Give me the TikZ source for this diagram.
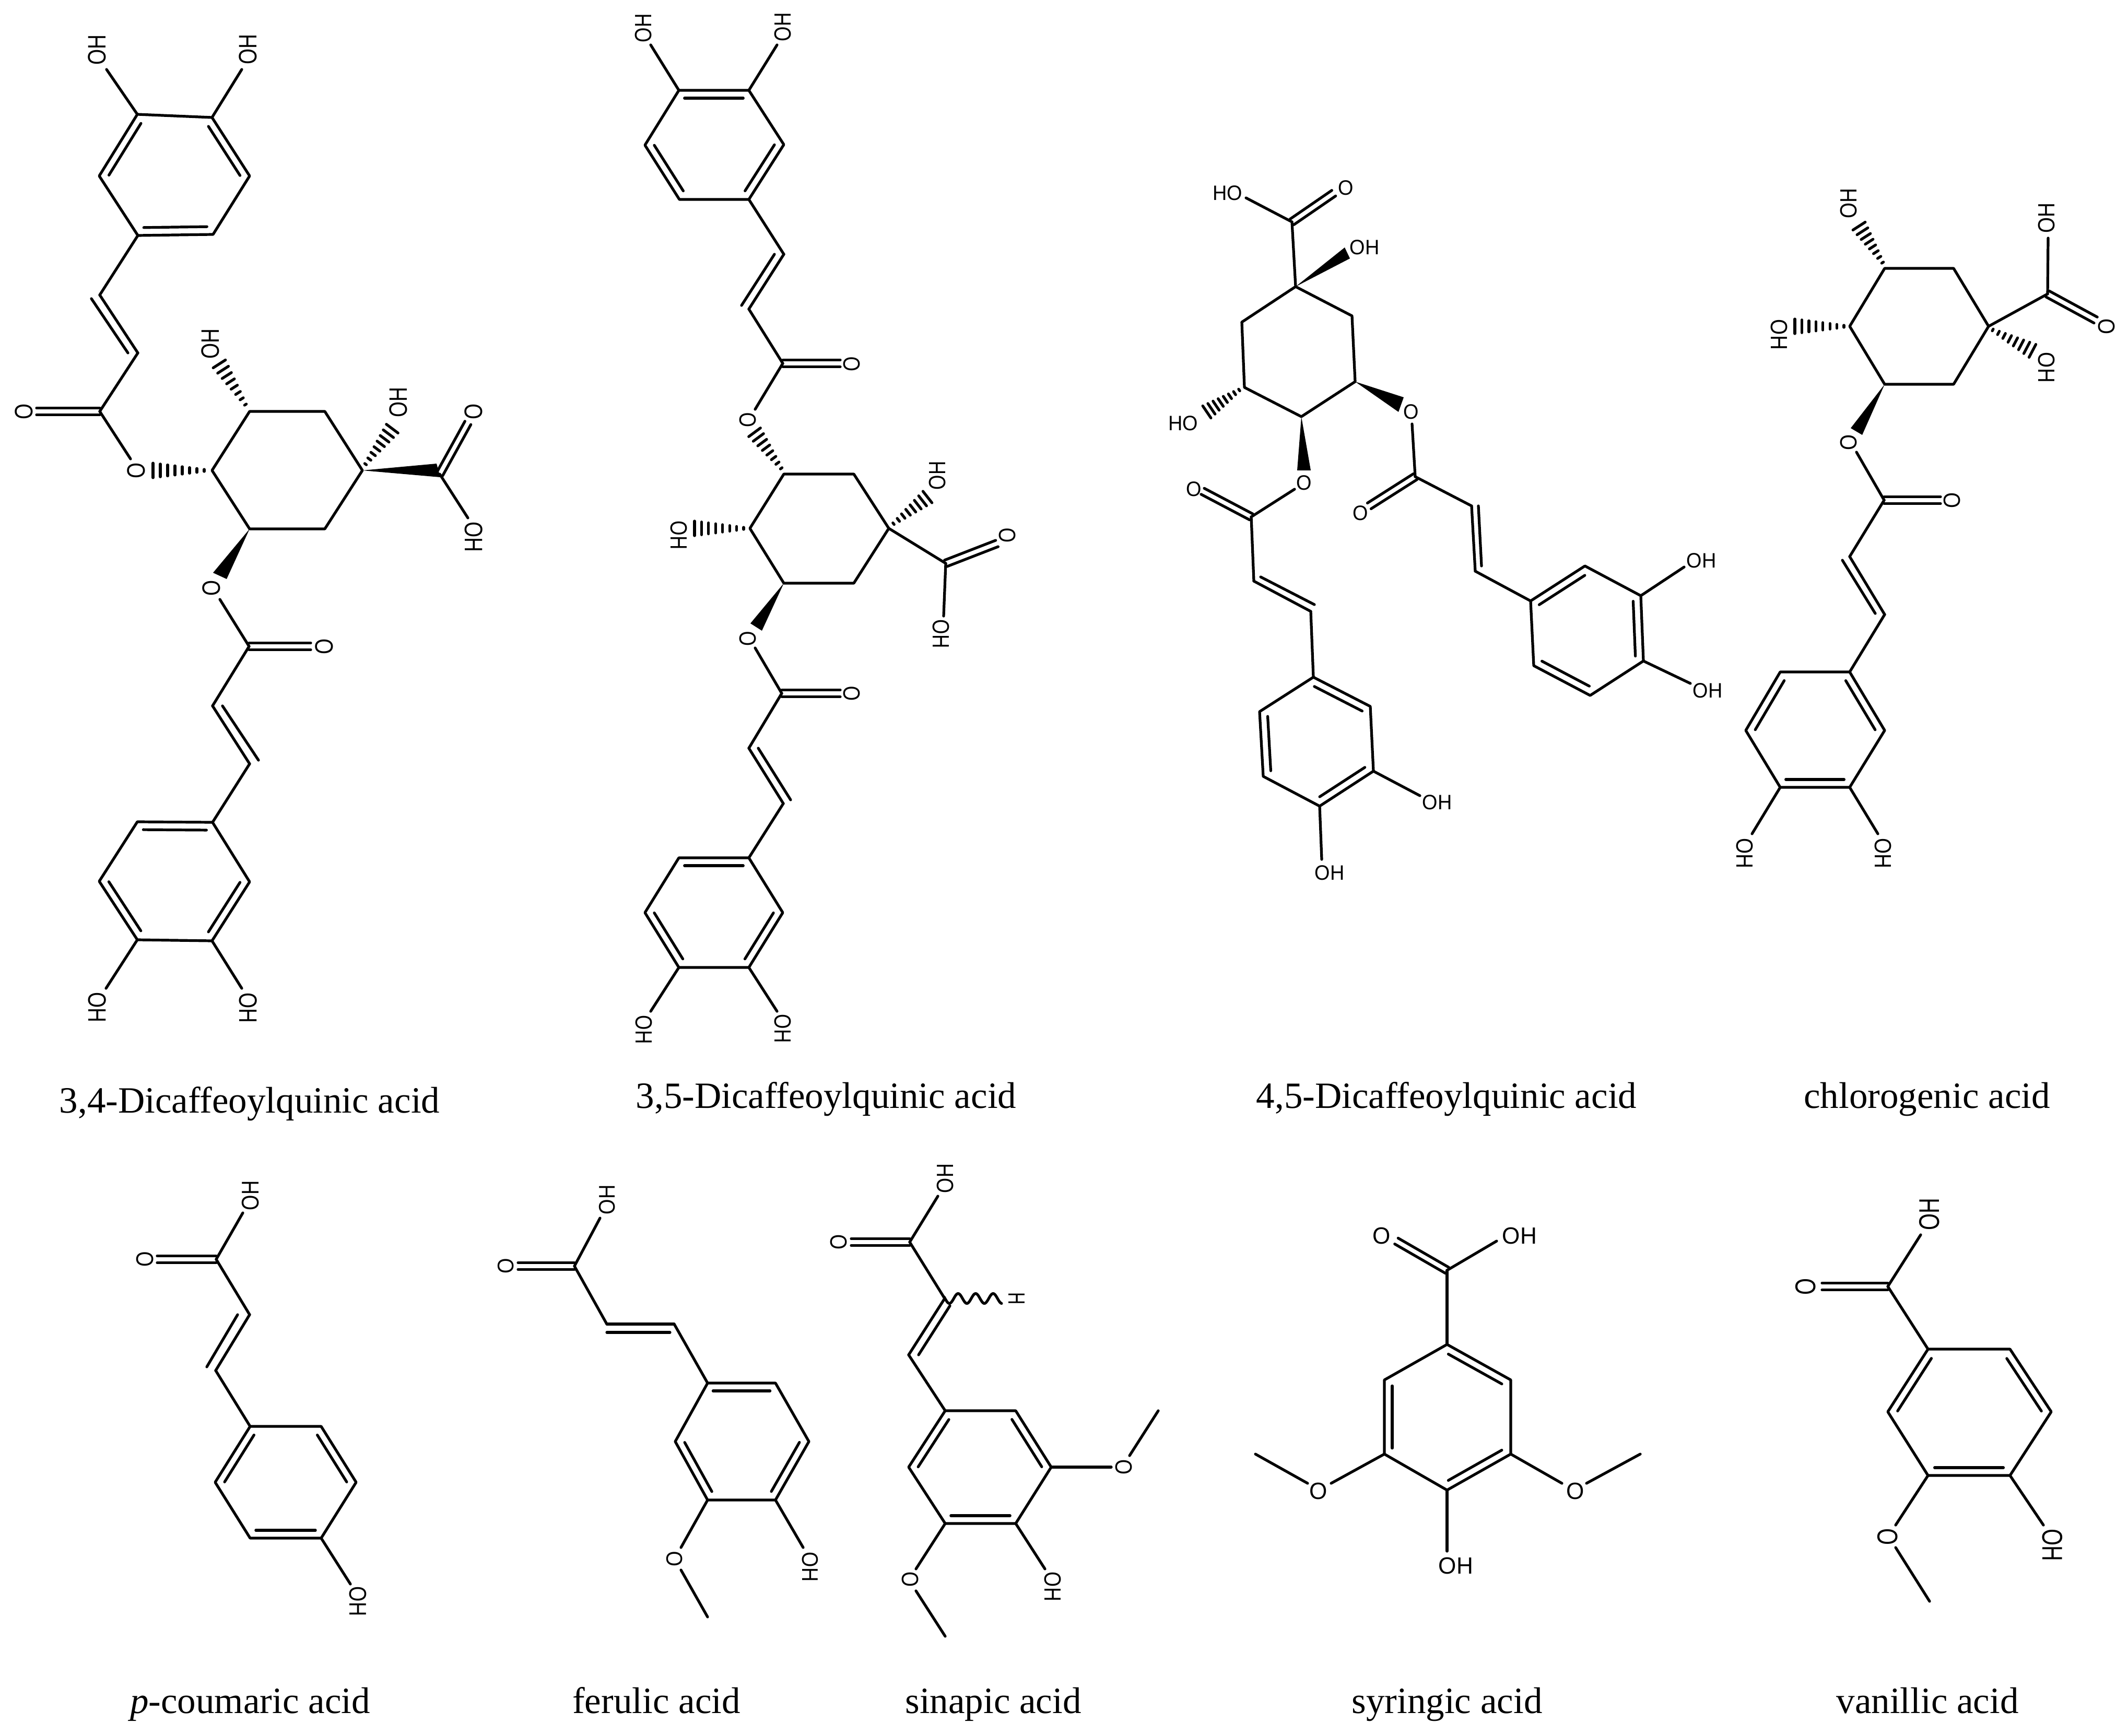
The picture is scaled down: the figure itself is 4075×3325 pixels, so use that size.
\documentclass[tikz,border=0pt]{standalone}
\usepackage{fontspec}
\setmainfont{Liberation Serif}
\newfontfamily\lblf{Liberation Sans}
\usetikzlibrary{calc}
\tikzset{
  bondline/.style={line width=.052cm,line join=round,line cap=round,black},
  hashline/.style={line width=.052cm,line cap=round,black},
  lbl/.style={font=\lblf\fontsize{11.95}{12}\selectfont,inner sep=0pt,outer sep=0pt},
  capt/.style={font=\fontsize{20.2}{22}\selectfont,inner sep=0pt,anchor=base},
  atomshape/.style={}
}
\newcommand\pts[1]{\foreach \n/\x/\y in {#1}{\coordinate (\n) at (\x,\y);}}
\newcommand\bonds[1]{\foreach \a/\b in {#1}{\draw[bondline] (\a)--(\b);}}
\newcommand\inbonds[1]{\foreach \a/\b in {#1}{\draw[bondline] ($(\a)!.08!(\b)!.15cm!-90:(\b)$)--($(\b)!.08!(\a)!.15cm!90:(\a)$);}}
\newcommand\cobond[2]{\draw[bondline] ($(#1)!.065cm!90:(#2)$)--($(#2)!.065cm!-90:(#1)$);\draw[bondline] ($(#1)!.065cm!-90:(#2)$)--($(#2)!.065cm!90:(#1)$);}
\newcommand\hashb[2]{\coordinate (hx) at ($(#1)!1.5!(#2)$);\foreach \i in {0,...,7}{\pgfmathsetmacro\f{\i/7}\pgfmathsetmacro\h{(.02+.12*\f)}\draw[hashline] ($(#1)!\f!(#2)!\h cm!90:(hx)$)--($(#1)!\f!(#2)!\h cm!-90:(hx)$);}}
\newcommand\wdg[3]{\fill[black] (#1)--(#2)--(#3)--cycle;}
\newcommand\atomlbl[5]{\node[lbl,rotate=#4,atomshape] (#1) at (#2,#3) {#5};}
\begin{document}
\begin{tikzpicture}[x=.01cm,y=-.01cm]
\useasboundingbox (0,0) rectangle (4075,3325);
\fill[white] (0,0) rectangle (4075,3325);

% ===== 3,4-Dicaffeoylquinic acid
\begin{scope}
\tikzset{atomshape/.style={xscale=.92,yscale=1.15}}
\pts{A1/263/219,A2/406/225,A3/478/337,A4/408/449,A5/264/451,A6/190/337,
 Ao1/204/133,Ao2/463/133,Ab1/191/565,Ab2/264/676,As1/175/572,As2/245/676,
 Ac/191/788,Acoe/70/788,Ace/250/879,
 Ar1/478/788,Ar2/406/901,Ar3/478/1013,Ar4/622/1013,Ar5/694/901,Ar6/622/788,
 Ah1a/391/901,Ah1b/293/901,Ah2a/470/775,Ah2b/420/697,Ah3a/700/889,Ah3b/751/821,
 Awb1/836/888,Awb2/843/914,Ax/842/908,Axo/896/810,Axh/896/992,
 Aw1/408/1097,Aw2/434/1109,Ae1/421/1148,Ac2/477/1238,Ac2e/595/1238,
 Ad1/407/1352,Ad2/478/1463,At1/426/1352,At2/495/1456,
 B1/407/1575,B2/478/1689,B3/406/1802,B4/263/1800,B5/190/1688,B6/263/1574,
 Bo1/463/1893,Bo2/203/1893}
\draw[bondline] (A1)--(A2)--(A3)--(A4)--(A5)--(A6)--cycle;
\inbonds{A2/A3,A4/A5,A6/A1}
\draw[bondline] (Ar1)--(Ar2)--(Ar3)--(Ar4)--(Ar5)--(Ar6)--cycle;
\draw[bondline] (B1)--(B2)--(B3)--(B4)--(B5)--(B6)--cycle;
\inbonds{B2/B3,B4/B5,B6/B1}
\bonds{A1/Ao1,A2/Ao2,A5/Ab1,Ab1/Ab2,As1/As2,Ab2/Ac,Ac/Ace,Ax/Axh,Ae1/Ac2,Ac2/Ad1,Ad1/Ad2,At1/At2,Ad2/B1,B3/Bo1,B4/Bo2}
\cobond{Ac}{Acoe}\cobond{Ax}{Axo}\cobond{Ac2}{Ac2e}
\hashb{Ah1a}{Ah1b}\hashb{Ah2a}{Ah2b}\hashb{Ah3a}{Ah3b}
\wdg{Ar5}{Awb1}{Awb2}\wdg{Ar3}{Aw1}{Aw2}
\atomlbl{al1}{186}{96}{90}{OH}\atomlbl{al2}{475}{95}{90}{OH}
\atomlbl{al3}{46}{788}{90}{O}\atomlbl{al4}{261}{901}{90}{O}
\atomlbl{al5}{403}{659}{90}{OH}\atomlbl{al6}{763}{771}{90}{OH}
\atomlbl{al7}{907}{788}{90}{O}\atomlbl{al8}{907}{1028}{-90}{OH}
\atomlbl{al9}{405}{1126}{90}{O}\atomlbl{al10}{621}{1238}{90}{O}
\atomlbl{al11}{475}{1930}{-90}{OH}\atomlbl{al12}{186}{1929}{-90}{OH}
\end{scope}
\node[capt] (capA) at (478,2131) {3,4-Dicaffeoylquinic acid};

% ===== 3,5-Dicaffeoylquinic acid
\begin{scope}
\tikzset{atomshape/.style={xscale=.87,yscale=1.07}}
\pts{C1/1300/173,C2/1434/173,C3/1501/277,C4/1434/382,C5/1301/382,C6/1235/278,
 Co1/1246/86,Co2/1488/86,Cb1/1501/487,Cb2/1434/592,Cs1/1483/487,Cs2/1420/585,
 Cc/1499/696,Cce/1609/696,Cee/1446/784,
 Cr1/1501/908,Cr2/1436/1012,Cr3/1501/1117,Cr4/1635/1117,Cr5/1702/1012,Cr6/1635/908,
 Ch1a/1496/897,Ch1b/1445/828,Ch2a/1424/1012,Ch2b/1330/1012,Ch3a/1711/1003,Ch3b/1776/952,
 Cx/1811/1079,Cxo/1909/1041,Cxh/1807/1180,
 Cw1/1437/1194,Cw2/1459/1208,Ce1/1446/1241,Cc2/1497/1328,Cc2e/1609/1328,
 Cd1/1434/1433,Cd2/1500/1539,Ct1/1452/1433,Ct2/1514/1532,
 D1/1434/1643,D2/1499/1748,D3/1434/1853,D4/1300/1853,D5/1235/1748,D6/1300/1643,
 Do1/1488/1937,Do2/1246/1937}
\draw[bondline] (C1)--(C2)--(C3)--(C4)--(C5)--(C6)--cycle;
\inbonds{C1/C2,C3/C4,C5/C6}
\draw[bondline] (Cr1)--(Cr2)--(Cr3)--(Cr4)--(Cr5)--(Cr6)--cycle;
\draw[bondline] (D1)--(D2)--(D3)--(D4)--(D5)--(D6)--cycle;
\inbonds{D2/D3,D4/D5,D6/D1}
\bonds{C1/Co1,C2/Co2,C4/Cb1,Cb1/Cb2,Cs1/Cs2,Cb2/Cc,Cc/Cee,Cr5/Cx,Cx/Cxh,Ce1/Cc2,Cc2/Cd1,Cd1/Cd2,Ct1/Ct2,Cd2/D1,D3/Do1,D4/Do2}
\cobond{Cc}{Cce}\cobond{Cx}{Cxo}\cobond{Cc2}{Cc2e}
\hashb{Ch1a}{Ch1b}\hashb{Ch2a}{Ch2b}\hashb{Ch3a}{Ch3b}
\wdg{Cr3}{Cw1}{Cw2}
\atomlbl{cl1}{1232}{54}{90}{OH}\atomlbl{cl2}{1499}{52}{90}{OH}
\atomlbl{cl3}{1631}{697}{90}{O}\atomlbl{cl4}{1432}{804}{90}{O}
\atomlbl{cl5}{1300}{1025}{-90}{OH}\atomlbl{cl6}{1795}{911}{90}{OH}
\atomlbl{cl7}{1929}{1025}{90}{O}\atomlbl{cl8}{1802}{1214}{-90}{OH}
\atomlbl{cl9}{1432}{1223}{90}{O}\atomlbl{cl10}{1631}{1328}{90}{O}
\atomlbl{cl11}{1499}{1970}{-90}{OH}\atomlbl{cl12}{1233}{1972}{-90}{OH}
\end{scope}
\node[capt] (capB) at (1582,2122) {3,5-Dicaffeoylquinic acid};

% ===== 4,5-Dicaffeoylquinic acid
\begin{scope}
\tikzset{atomshape/.style={xscale=.9,yscale=.95}}
\pts{E1/2481/549,E2/2589/605,E3/2595/731,E4/2492/798,E5/2383/742,E6/2378/617,
 Ex/2474/425,Exo/2554/370,Exh/2386/379,Ew1/2575/474,Ew2/2585/495,
 Eh1a/2373/747,Eh1b/2311/789,Ew3/2484/901,Ew4/2510/901,
 Ee1/2479/937,Ec1/2396/990,Ec1e/2303/941,Ed1/2401/1113,Ed2/2510/1171,Es1/2414/1105,Es2/2517/1158,
 F1/2515/1297,F2/2624/1353,F3/2630/1477,F4/2527/1544,F5/2419/1487,F6/2412/1363,
 Fo1/2719/1524,Fo2/2531/1646,
 Ew5/2688/761,Ew6/2678/789,Ee2/2704/812,Ec2/2710/913,Ec2e/2622/969,
 Ef1/2818/969,Ef2/2825/1094,Et1/2831/969,Et2/2837/1084,
 G1/2931/1151,G2/3035/1084,G3/3142/1141,G4/3147/1266,G5/3045/1332,G6/2937/1275,
 Go1/3225/1086,Go2/3237/1309}
\draw[bondline] (E1)--(E2)--(E3)--(E4)--(E5)--(E6)--cycle;
\draw[bondline] (F1)--(F2)--(F3)--(F4)--(F5)--(F6)--cycle;
\inbonds{F1/F2,F3/F4,F5/F6}
\draw[bondline] (G1)--(G2)--(G3)--(G4)--(G5)--(G6)--cycle;
\inbonds{G1/G2,G3/G4,G5/G6}
\bonds{E1/Ex,Ex/Exh,Ee1/Ec1,Ec1/Ed1,Ed1/Ed2,Es1/Es2,Ed2/F1,F3/Fo1,F4/Fo2,Ee2/Ec2,Ec2/Ef1,Ef1/Ef2,Et1/Et2,Ef2/G1,G3/Go1,G4/Go2}
\cobond{Ex}{Exo}\cobond{Ec1}{Ec1e}\cobond{Ec2}{Ec2e}
\hashb{Eh1a}{Eh1b}
\wdg{E1}{Ew1}{Ew2}\wdg{E4}{Ew3}{Ew4}\wdg{E3}{Ew5}{Ew6}
\atomlbl{el1}{2577}{360}{0}{O}\atomlbl{el2}{2351}{370}{0}{HO}
\atomlbl{el3}{2613}{474}{0}{OH}\atomlbl{el4}{2266}{811}{0}{HO}
\atomlbl{el5}{2497}{925}{0}{O}\atomlbl{el6}{2286}{937}{0}{O}
\atomlbl{el7}{2752}{1537}{0}{OH}\atomlbl{el8}{2546}{1672}{0}{OH}
\atomlbl{el9}{2702}{789}{0}{O}\atomlbl{el10}{2605}{983}{0}{O}
\atomlbl{el11}{3258}{1074}{0}{OH}\atomlbl{el12}{3270}{1323}{0}{OH}
\end{scope}
\node[capt] (capC) at (2770,2122) {4,5-Dicaffeoylquinic acid};

% ===== chlorogenic acid
\begin{scope}
\tikzset{atomshape/.style={xscale=.92,yscale=1.07}}
\pts{H1/3609/514,H2/3741/514,H3/3808/625,H4/3741/736,H5/3609/736,H6/3542/625,
 Hh1a/3605/503,Hh1b/3560/433,Hh2a/3531/625,Hh2b/3437/625,Hh3a/3816/632,Hh3b/3892/672,
 Hx/3921/563,Hxo/4013/613,Hxh/3922/456,Hw1/3544/820,Hw2/3566/833,
 He1/3555/866,Hc/3608/958,Hce/3716/958,Hd1/3542/1066,Hd2/3609/1177,Hs1/3528/1073,Hs2/3591/1175,
 I1/3542/1287,I2/3609/1399,I3/3542/1508,I4/3409/1508,I5/3343/1399,I6/3409/1287,
 Io1/3596/1597,Io2/3355/1597}
\draw[bondline] (H1)--(H2)--(H3)--(H4)--(H5)--(H6)--cycle;
\draw[bondline] (I1)--(I2)--(I3)--(I4)--(I5)--(I6)--cycle;
\inbonds{I1/I2,I3/I4,I5/I6}
\bonds{H3/Hx,Hx/Hxh,He1/Hc,Hc/Hd1,Hd1/Hd2,Hs1/Hs2,Hd2/I1,I3/Io1,I4/Io2}
\cobond{Hx}{Hxo}\cobond{Hc}{Hce}
\hashb{Hh1a}{Hh1b}\hashb{Hh2a}{Hh2b}\hashb{Hh3a}{Hh3b}
\wdg{H5}{Hw1}{Hw2}
\atomlbl{hl1}{3540}{390}{90}{OH}\atomlbl{hl2}{3407}{641}{-90}{OH}
\atomlbl{hl3}{4034}{625}{90}{O}\atomlbl{hl4}{3919}{418}{90}{OH}
\atomlbl{hl5}{3919}{704}{-90}{OH}\atomlbl{hl6}{3540}{847}{90}{O}
\atomlbl{hl7}{3738}{958}{90}{O}\atomlbl{hl8}{3606}{1634}{-90}{OH}
\atomlbl{hl9}{3341}{1634}{-90}{OH}
\end{scope}
\node[capt] (capD) at (3690,2122) {chlorogenic acid};

% ===== p-coumaric acid
\begin{scope}
\tikzset{atomshape/.style={xscale=.9,yscale=1.1}}
\pts{Jc/414/2412,Jce/301/2412,Jch/465/2323,Jb1/478/2518,Jb2/413/2625,Js1/455/2518,Js2/396/2618,
 J1/479/2732,J2/615/2732,J3/682/2839,J4/615/2946,J5/479/2946,J6/412/2839,Jo/671/3034}
\draw[bondline] (J1)--(J2)--(J3)--(J4)--(J5)--(J6)--cycle;
\inbonds{J2/J3,J4/J5,J6/J1}
\bonds{Jc/Jch,Jc/Jb1,Jb1/Jb2,Js1/Js2,Jb2/J1,J4/Jo}
\cobond{Jc}{Jce}
\atomlbl{jl1}{278}{2412}{90}{O}\atomlbl{jl2}{480}{2290}{90}{OH}\atomlbl{jl3}{685}{3067}{-90}{OH}
\end{scope}
\node[capt] (capE) at (479,3281) {\textit{p}-coumaric acid};

% ===== ferulic acid
\begin{scope}
\tikzset{atomshape/.style={xscale=.9,yscale=1.03}}
\pts{Kc/1100/2425,Kce/992/2425,Kch/1149/2333,Kb1/1162/2536,Kb2/1291/2536,Ks1/1162/2552,Ks2/1283/2552,
 K1/1355/2649,K2/1485/2649,K3/1549/2761,K4/1485/2873,K5/1355/2873,K6/1293/2761,
 Ko1/1538/2964,Ko2/1304/2964,Ko3/1304/3007,Kme/1355/3097}
\draw[bondline] (K1)--(K2)--(K3)--(K4)--(K5)--(K6)--cycle;
\inbonds{K1/K2,K3/K4,K5/K6}
\bonds{Kc/Kch,Kc/Kb1,Kb1/Kb2,Ks1/Ks2,Kb2/K1,K4/Ko1,K5/Ko2,Ko3/Kme}
\cobond{Kc}{Kce}
\atomlbl{kl1}{969}{2425}{90}{O}\atomlbl{kl2}{1163}{2298}{90}{OH}
\atomlbl{kl3}{1551}{3001}{-90}{OH}\atomlbl{kl4}{1292}{2986}{90}{O}
\end{scope}
\node[capt] (capF) at (1257,3281) {ferulic acid};

% ===== sinapic acid
\begin{scope}
\tikzset{atomshape/.style={xscale=.89,yscale=1.07}}
\pts{Lc/1742/2379,Lce/1630/2379,Lch/1796/2291,Lb1/1809/2487,Lb2/1740/2595,Ls1/1819/2501,Ls2/1759/2595,
 L1/1810/2702,L2/1945/2702,L3/2013/2810,L4/1945/2918,L5/1810/2918,L6/1740/2810,
 Lo1/2128/2810,Lo2/2163/2788,Lm1/2218/2702,Lo3/2001/3005,Lo4/1754/3005,Lo5/1754/3047,Lm2/1810/3134}
\draw[bondline] (L1)--(L2)--(L3)--(L4)--(L5)--(L6)--cycle;
\inbonds{L2/L3,L4/L5,L6/L1}
\bonds{Lc/Lch,Lc/Lb1,Lb1/Lb2,Ls1/Ls2,Lb2/L1,L3/Lo1,Lo2/Lm1,L4/Lo3,L5/Lo4,Lo5/Lm2}
\cobond{Lc}{Lce}
\draw[bondline] plot[smooth,domain=0:110,samples=60] ({1808+\x},{2487+9.5*cos(10.746*(\x-10))});
\atomlbl{ll1}{1606}{2379}{90}{O}\atomlbl{ll2}{1810}{2257}{90}{OH}
\node[lbl,rotate=-90,xscale=.77,yscale=1.07] (ll3) at (1947,2487) {H};
\atomlbl{ll4}{2152}{2810}{90}{O}
\atomlbl{ll5}{2016}{3039}{-90}{OH}\atomlbl{ll6}{1743}{3025}{90}{O}
\end{scope}
\node[capt] (capG) at (1902,3281) {sinapic acid};

% ===== syringic acid
\begin{scope}
\tikzset{atomshape/.style={xscale=1.05,yscale=1.07}}
\pts{M1/2771/2575,M2/2893/2643,M3/2893/2785,M4/2771/2854,M5/2651/2785,M6/2651/2643,
 Mc/2771/2433,Mce/2674/2377,Mch/2866/2377,
 Mo1/2991/2841,Mo2/3038/2841,Mm1/3141/2785,Mo3/2549/2841,Mo4/2504/2841,Mm2/2404/2785,Mo5/2771/2971}
\draw[bondline] (M1)--(M2)--(M3)--(M4)--(M5)--(M6)--cycle;
\inbonds{M1/M2,M3/M4,M5/M6}
\bonds{M1/Mc,Mc/Mch,M3/Mo1,Mo2/Mm1,M5/Mo3,Mo4/Mm2,M4/Mo5}
\cobond{Mc}{Mce}
\atomlbl{ml1}{2646}{2367}{0}{O}\atomlbl{ml2}{2910}{2367}{0}{OH}
\atomlbl{ml3}{3017}{2856}{0}{O}\atomlbl{ml4}{2525}{2856}{0}{O}\atomlbl{ml5}{2788}{2999}{0}{OH}
\end{scope}
\node[capt] (capH) at (2771,3281) {syringic acid};

% ===== vanillic acid
\begin{scope}
\tikzset{atomshape/.style={xscale=.98,yscale=1.3}}
\pts{Nc/3615/2464,Nce/3489/2464,Nch/3678/2365,
 N1/3692/2584,N2/3849/2584,N3/3928/2704,N4/3849/2826,N5/3692/2826,N6/3615/2704,
 No1/3913/2921,No2/3630/2921,No3/3630/2964,Nm/3695/3067}
\draw[bondline] (N1)--(N2)--(N3)--(N4)--(N5)--(N6)--cycle;
\inbonds{N2/N3,N4/N5,N6/N1}
\bonds{Nc/Nch,Nc/N1,N4/No1,N5/No2,No3/Nm}
\cobond{Nc}{Nce}
\atomlbl{nl1}{3458}{2464}{90}{O}\atomlbl{nl2}{3695}{2326}{90}{OH}
\atomlbl{nl3}{3930}{2959}{-90}{OH}\atomlbl{nl4}{3615}{2943}{90}{O}
\end{scope}
\node[capt] (capI) at (3691,3281) {vanillic acid};
\end{tikzpicture}
\end{document}
